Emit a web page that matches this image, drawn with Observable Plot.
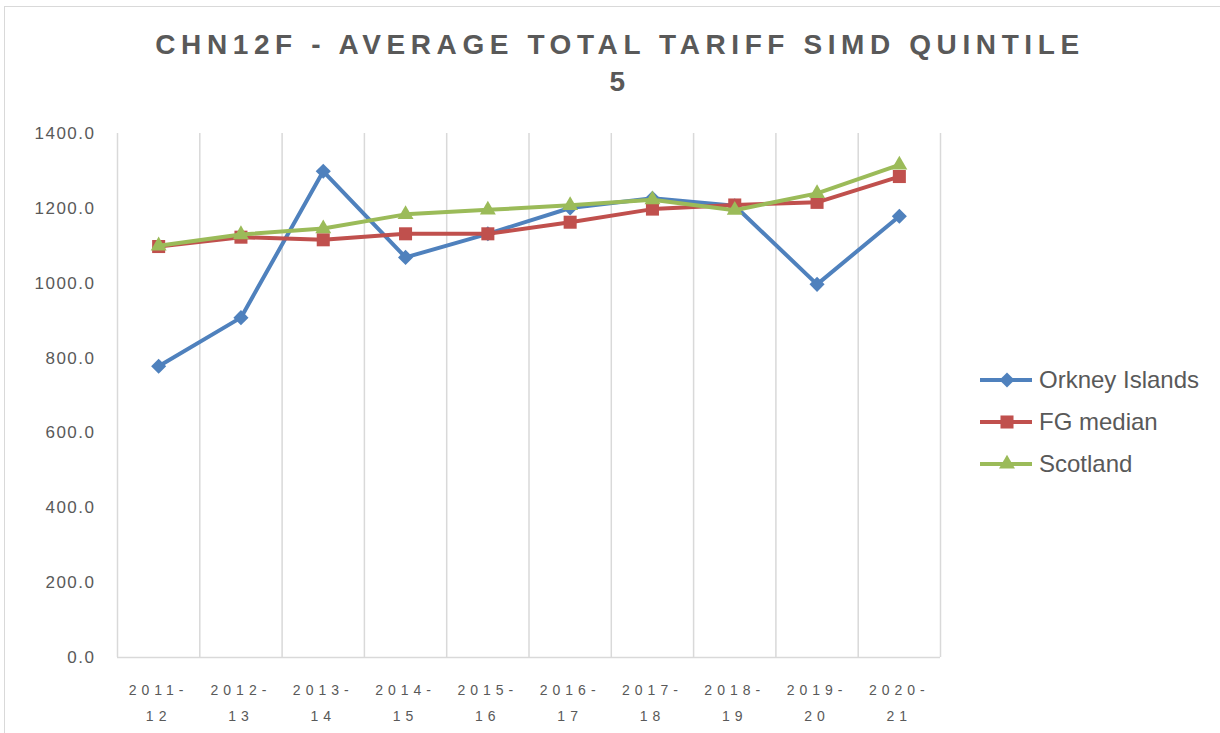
<!DOCTYPE html>
<html><head><meta charset="utf-8">
<script src="https://cdn.jsdelivr.net/npm/d3@7"></script>
<script src="https://cdn.jsdelivr.net/npm/@observablehq/plot@0.6"></script>
<style>
body{margin:0;background:#fff;overflow:hidden;font-family:"Liberation Sans",Arial,sans-serif;}
#wrap{position:relative;width:1220px;height:733px;overflow:hidden;}
#frame{position:absolute;left:4px;top:6px;width:1300px;height:800px;border:1.5px solid #d9d9d9;box-sizing:border-box;}
#title{position:absolute;left:0;top:26px;width:1240px;text-align:center;font-weight:bold;font-size:28px;line-height:37px;letter-spacing:5.6px;color:#595959;}
#chart{position:absolute;left:0;top:100px;}
#legend{position:absolute;left:979px;top:0;}
.lg{position:absolute;left:0;height:30px;display:flex;align-items:center;white-space:nowrap;font-size:24px;color:#595959;}
.lg svg{margin-right:6px;}
#chart g[aria-label="y-axis tick label"] text{letter-spacing:1.5px;font-size:17px !important;}
#chart g[aria-label="x-axis tick label"] text{letter-spacing:5px;font-size:14px !important;}
</style></head>
<body>
<div id="wrap">
  <div id="frame"></div>
  <div id="title">CHN12F - AVERAGE TOTAL TARIFF SIMD QUINTILE<br>5</div>
  <div id="chart"></div>
  <div id="legend"></div>
</div>
<script>
const years = ["2011-12","2012-13","2013-14","2014-15","2015-16","2016-17","2017-18","2018-19","2019-20","2020-21"];
const orkney = [778, 908, 1299, 1069, 1132, 1201, 1227, 1207, 997, 1179];
const fgMedian = [1098, 1123, 1116, 1132, 1132, 1163, 1198, 1209, 1216, 1285];
const scotland = [1100, 1130, 1146, 1184, 1196, 1208, 1223, 1195, 1240, 1316];
const yTicks = [0, 200, 400, 600, 800, 1000, 1200, 1400];

const series = [
  {name: "Orkney Islands", values: orkney, color: "#4F81BD", symbol: "diamond2", r: 6.8, d3sym: d3.symbolDiamond2},
  {name: "FG median", values: fgMedian, color: "#C0504D", symbol: "square2", r: 8.3, d3sym: d3.symbolSquare2},
  {name: "Scotland", values: scotland, color: "#9BBB59", symbol: "triangle2", r: 7.6, d3sym: d3.symbolTriangle2}
];

const marks = [
  Plot.ruleX(d3.range(years.length + 1).map(i => i - 0.5), {stroke: "#d9d9d9", strokeWidth: 1.5}),
  Plot.ruleY([0], {stroke: "#d9d9d9", strokeWidth: 1.5}),
  Plot.axisY({ticks: yTicks, tickFormat: d => d.toFixed(1), tickSize: 0, tickPadding: 22, fontSize: 17, label: null}),
  Plot.axisX({ticks: d3.range(years.length), tickFormat: i => years[i].replace("-", "-\n"), tickSize: 0, tickPadding: 19, fontSize: 14, lineHeight: 1.86, label: null})
];
for (const s of series) {
  const data = s.values.map((v, i) => ({i, v}));
  marks.push(Plot.line(data, {x: "i", y: "v", stroke: s.color, strokeWidth: 4}));
  marks.push(Plot.dot(data, {x: "i", y: "v", symbol: () => s.symbol, r: s.r, fill: s.color, stroke: "none"}));
}

const chart = Plot.plot({
  width: 1220,
  height: 633,
  marginLeft: 117,
  marginRight: 280,
  marginTop: 33,
  marginBottom: 76,
  style: {color: "#595959", fontFamily: "'Liberation Sans', Arial, sans-serif", fontSize: "17px", background: "transparent"},
  x: {type: "linear", domain: [-0.5, years.length - 0.5], axis: null},
  y: {domain: [0, 1400], axis: null},
  symbol: {type: "identity"},
  marks
});
document.getElementById("chart").appendChild(chart);

const legend = document.getElementById("legend");
const rowsY = [380, 422, 464];
series.forEach((s, k) => {
  const row = document.createElement("div");
  row.className = "lg";
  row.style.top = (rowsY[k] - 15) + "px";
  const size = Math.PI * s.r * s.r;
  row.innerHTML = `<svg width="54" height="30"><line x1="1" x2="53" y1="15" y2="15" stroke="${s.color}" stroke-width="4"/><path transform="translate(28,15)" d="${d3.symbol(s.d3sym, size)()}" fill="${s.color}"/></svg><span>${s.name}</span>`;
  legend.appendChild(row);
});
</script>
</body></html>
